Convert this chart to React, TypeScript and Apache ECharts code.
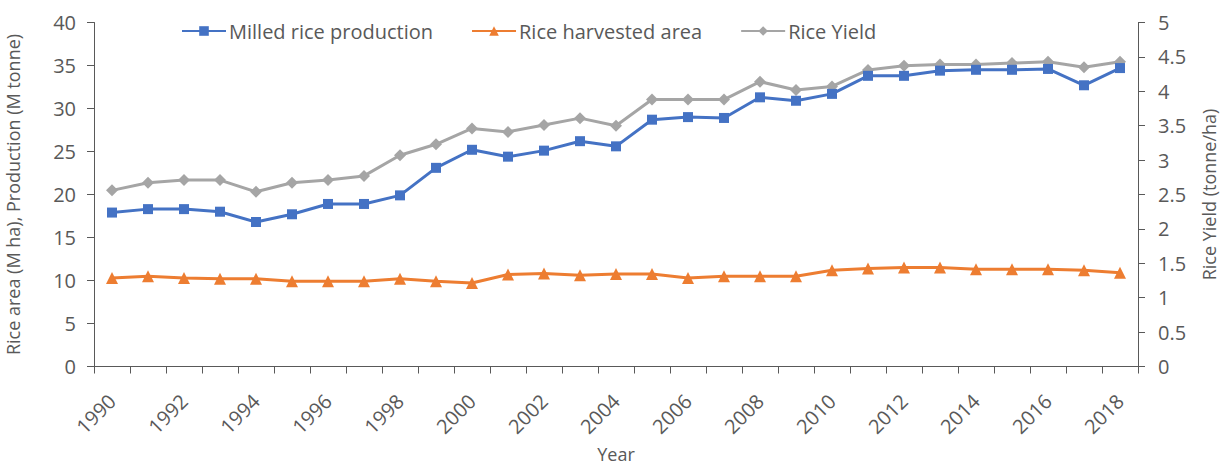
import React, { useEffect, useRef } from "react";
import * as echarts from "echarts";

const years: string[] = [
  "1990", "1991", "1992", "1993", "1994", "1995", "1996", "1997", "1998", "1999",
  "2000", "2001", "2002", "2003", "2004", "2005", "2006", "2007", "2008", "2009",
  "2010", "2011", "2012", "2013", "2014", "2015", "2016", "2017", "2018",
];

// Milled rice production (M tonne)
const production: number[] = [
  17.9, 18.3, 18.3, 18.0, 16.8, 17.7, 18.9, 18.9, 19.9, 23.1,
  25.2, 24.4, 25.1, 26.2, 25.6, 28.7, 29.0, 28.9, 31.3, 30.9,
  31.7, 33.8, 33.8, 34.4, 34.5, 34.5, 34.6, 32.7, 34.7,
];

// Rice harvested area (M ha)
const harvestedArea: number[] = [
  10.3, 10.5, 10.3, 10.2, 10.2, 9.9, 9.9, 9.9, 10.2, 9.9,
  9.7, 10.7, 10.8, 10.6, 10.75, 10.75, 10.3, 10.5, 10.5, 10.5,
  11.2, 11.4, 11.5, 11.5, 11.3, 11.3, 11.3, 11.2, 10.9,
];

// Rice yield (tonne/ha), right axis
const riceYield: number[] = [
  2.56, 2.67, 2.71, 2.71, 2.54, 2.67, 2.71, 2.77, 3.07, 3.23,
  3.46, 3.41, 3.51, 3.61, 3.50, 3.88, 3.88, 3.88, 4.14, 4.02,
  4.07, 4.31, 4.37, 4.39, 4.39, 4.41, 4.43, 4.35, 4.43,
];

const FONT = "Open Sans";
const TEXT = "#595959";
const AXIS = "#595959";

export default function App() {
  const ref = useRef<HTMLDivElement>(null);

  useEffect(() => {
    if (!ref.current) return;
    const chart = echarts.init(ref.current, undefined, { renderer: "svg" });

    const axisCommon = {
      axisLine: { show: true, lineStyle: { color: AXIS, width: 1 } },
      axisTick: { show: true, inside: false, length: 7, lineStyle: { color: AXIS } },
      splitLine: { show: false },
      nameLocation: "middle" as const,
      nameRotate: 90,
      nameTextStyle: { color: TEXT, fontFamily: FONT, fontSize: 18 },
    };

    chart.setOption({
      animation: false,
      backgroundColor: "#ffffff",
      textStyle: { fontFamily: FONT },
      grid: {
        left: 94,
        right: 82,
        top: 22.5,
        bottom: 99.5,
        containLabel: false,
        outerBoundsMode: "none",
      },
      legend: {
        top: 16,
        left: 176,
        itemWidth: 44,
        itemHeight: 12,
        itemGap: 38,
        textStyle: { color: TEXT, fontFamily: FONT, fontSize: 20, padding: [0, 0, 0, -2] },
        data: ["Milled rice production", "Rice harvested area", "Rice Yield"],
      },
      xAxis: {
        type: "category",
        data: years,
        boundaryGap: true,
        name: "Year",
        nameLocation: "middle",
        nameGap: 78,
        nameTextStyle: { color: TEXT, fontFamily: FONT, fontSize: 18 },
        axisLine: { show: true, lineStyle: { color: AXIS, width: 1 } },
        axisTick: { show: true, length: 7, alignWithLabel: false, interval: 0, lineStyle: { color: AXIS } },
        axisLabel: {
          interval: 1,
          rotate: 45,
          margin: 31,
          color: TEXT,
          fontFamily: FONT,
          fontSize: 20,
        },
        splitLine: { show: false },
      },
      yAxis: [
        {
          type: "value",
          position: "left",
          min: 0,
          max: 40,
          interval: 5,
          name: "Rice area (M ha), Production (M tonne)",
          nameGap: 72,
          ...axisCommon,
          axisLabel: { color: TEXT, fontFamily: FONT, fontSize: 20, margin: 18 },
        },
        {
          type: "value",
          position: "right",
          min: 0,
          max: 5,
          interval: 0.5,
          name: "Rice Yield (tonne/ha)",
          nameGap: 62,
          ...axisCommon,
          axisLabel: { color: TEXT, fontFamily: FONT, fontSize: 20, margin: 20 },
        },
      ],
      series: [
        {
          name: "Milled rice production",
          type: "line",
          yAxisIndex: 0,
          data: production,
          symbol: "rect",
          symbolSize: 10,
          lineStyle: { color: "#4472C4", width: 3 },
          itemStyle: { color: "#4472C4" },
          z: 3,
        },
        {
          name: "Rice harvested area",
          type: "line",
          yAxisIndex: 0,
          data: harvestedArea,
          symbol: "triangle",
          symbolSize: 12,
          lineStyle: { color: "#ED7D31", width: 3 },
          itemStyle: { color: "#ED7D31" },
          z: 2,
        },
        {
          name: "Rice Yield",
          type: "line",
          yAxisIndex: 1,
          data: riceYield,
          symbol: "diamond",
          symbolSize: 12,
          lineStyle: { color: "#A5A5A5", width: 3 },
          itemStyle: { color: "#A5A5A5" },
          z: 1,
        },
      ],
    });

    return () => chart.dispose();
  }, []);

  return (
    <div
      ref={ref}
      style={{ position: "fixed", left: 0, top: 0, width: 1220, height: 466, background: "#fff" }}
    />
  );
}
